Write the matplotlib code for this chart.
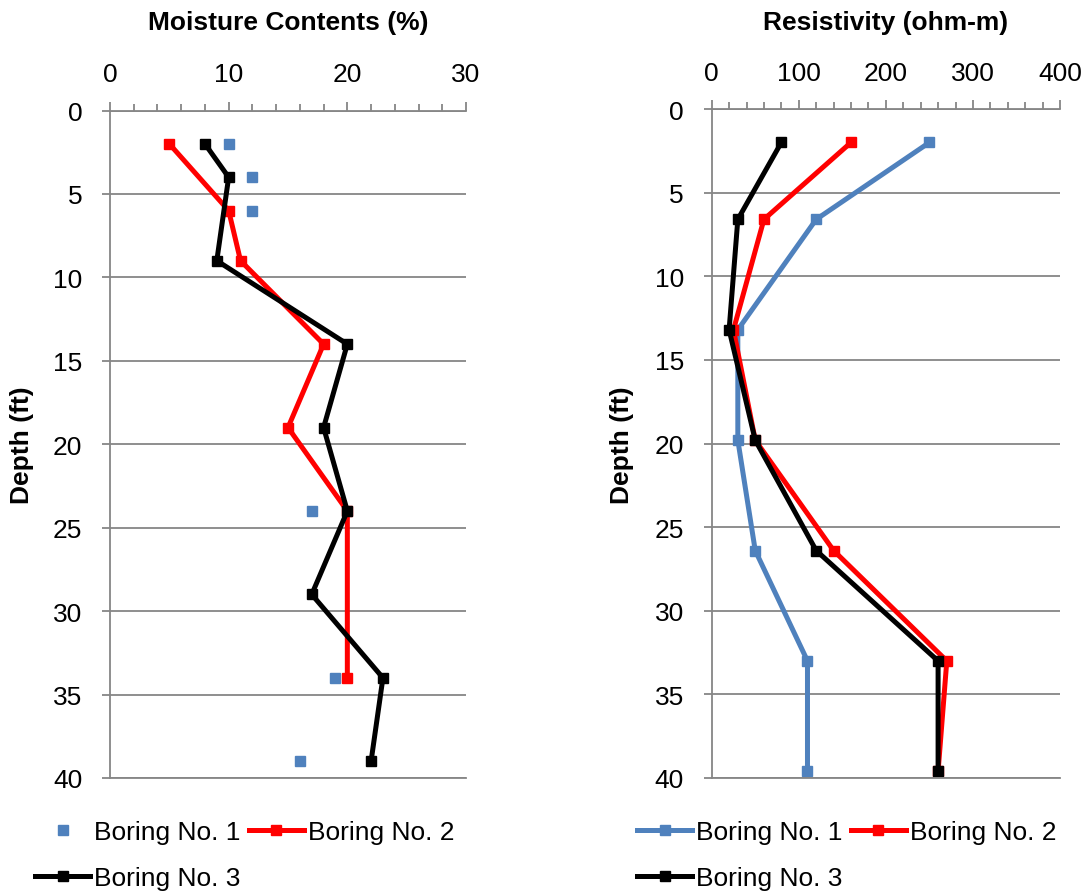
import matplotlib
matplotlib.use("Agg")
import matplotlib.pyplot as plt
from matplotlib.ticker import MultipleLocator

plt.rcParams['font.family'] = ['Liberation Sans', 'DejaVu Sans']

# ---- Data ----
labels = ["Boring No. 1", "Boring No. 2", "Boring No. 3"]

mc_b1_depth = [2, 4, 6, 24, 34, 39]
mc_b1 = [10, 12, 12, 17, 19, 16]
mc_b2_depth = [2, 6, 9, 14, 19, 24, 34]
mc_b2 = [5, 10, 11, 18, 15, 20, 20]
mc_b3_depth = [2, 4, 9, 14, 19, 24, 29, 34, 39]
mc_b3 = [8, 10, 9, 20, 18, 20, 17, 23, 22]

res_depth = [2, 6.6, 13.2, 19.8, 26.4, 33, 39.6]
res_b1 = [250, 120, 30, 30, 50, 110, 110]
res_b2 = [160, 60, 25, 50, 140, 270, 260]
res_b3 = [80, 30, 20, 50, 120, 260, 260]

mc_ticks = [0, 10, 20, 30]
res_ticks = [0, 100, 200, 300, 400]
depth_ticks = [0, 5, 10, 15, 20, 25, 30, 35, 40]

# ---- Style ----
W, H = 1088, 895
BLUE = "#4F81BD"
RED = "#FF0000"
BLACK = "#000000"
GRAY = "#868686"
FS = 19
LW = 3.6
MS = 7

fig = plt.figure(figsize=(W / 100, H / 100), dpi=100)


def fx(px):
    return px / W


def fy(py):
    return 1 - py / H


def style_axes(ax, xmax, minor, xticks):
    ax.set_xlim(0, xmax)
    ax.set_ylim(40, 0)
    ax.xaxis.tick_top()
    ax.set_xticks(xticks)
    ax.xaxis.set_minor_locator(MultipleLocator(minor))
    ax.set_yticks(depth_ticks)
    ax.spines['right'].set_visible(False)
    for s in ['top', 'left', 'bottom']:
        ax.spines[s].set_color(GRAY)
        ax.spines[s].set_linewidth(1.3)
    ax.tick_params(axis='x', which='major', direction='out', length=6.5, width=1.3,
                   color=GRAY, labelsize=FS, pad=11, top=True, bottom=False)
    ax.tick_params(axis='x', which='minor', direction='out', length=5, width=1.3,
                   color=GRAY, top=True, bottom=False)
    ax.tick_params(axis='y', which='major', direction='out', length=6, width=1.3,
                   color=GRAY, labelsize=FS, pad=14)
    ax.grid(axis='y', color=GRAY, linewidth=1.3)
    ax.set_axisbelow(True)


# Left axes
ax1 = fig.add_axes([fx(110), fy(779), fx(466 - 110), (779 - 111.5) / H])
style_axes(ax1, 30, 2, mc_ticks)
h1, = ax1.plot(mc_b1, mc_b1_depth, linestyle='none', marker='s', ms=MS, color=BLUE,
               label=labels[0])
h2, = ax1.plot(mc_b2, mc_b2_depth, marker='s', ms=MS, lw=LW, color=RED, label=labels[1])
h3, = ax1.plot(mc_b3, mc_b3_depth, marker='s', ms=MS, lw=LW, color=BLACK, label=labels[2])

# Right axes
ax2 = fig.add_axes([fx(711.7), fy(779), fx(1060 - 711.7), (779 - 110) / H])
style_axes(ax2, 400, 20, res_ticks)
g1, = ax2.plot(res_b1, res_depth, marker='s', ms=MS, lw=LW, color=BLUE, label=labels[0])
g2, = ax2.plot(res_b2, res_depth, marker='s', ms=MS, lw=LW, color=RED, label=labels[1])
g3, = ax2.plot(res_b3, res_depth, marker='s', ms=MS, lw=LW, color=BLACK, label=labels[2])

# Titles and axis labels
fig.text(fx(288), fy(23), "Moisture Contents (%)", ha='center', va='center',
         fontsize=FS, fontweight='bold')
fig.text(fx(886), fy(23), "Resistivity (ohm-m)", ha='center', va='center',
         fontsize=FS, fontweight='bold')
fig.text(fx(22), fy(445), "Depth (ft)", ha='center', va='center', rotation=90,
         fontsize=FS, fontweight='bold')
fig.text(fx(622), fy(445), "Depth (ft)", ha='center', va='center', rotation=90,
         fontsize=FS, fontweight='bold')

# Legends (row-major order: 1, 2 / 3)
leg_kw = dict(ncol=2, frameon=False, fontsize=FS, handlelength=2.1, handletextpad=0.15,
              columnspacing=0.3, labelspacing=0.85, borderpad=0, borderaxespad=0,
              loc='upper left')
fig.legend([h1, h3, h2], [labels[0], labels[2], labels[1]],
           bbox_to_anchor=(fx(35), fy(821)), **leg_kw)
fig.legend([g1, g3, g2], [labels[0], labels[2], labels[1]],
           bbox_to_anchor=(fx(637), fy(821)), **leg_kw)

fig.savefig("out.png", dpi=100)
